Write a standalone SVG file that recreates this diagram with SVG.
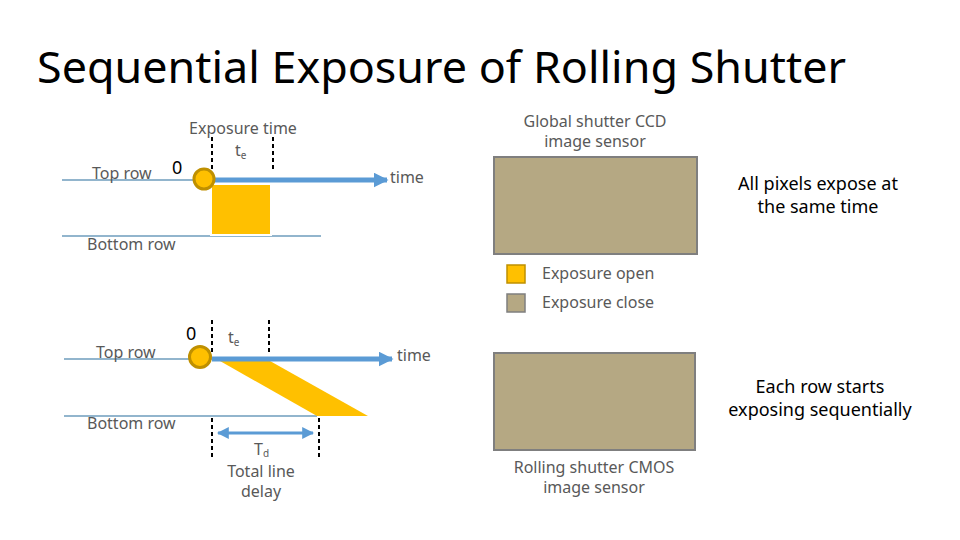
<svg xmlns="http://www.w3.org/2000/svg" width="960" height="540" viewBox="0 0 960 540">
<defs>
<style>
text{font-family:"Noto Sans","Open Sans","Liberation Sans",sans-serif}
.g{fill:#595959;font-size:16px}
.k{fill:#000;font-size:18px}
.c{text-anchor:middle}
.row{stroke:#6e9cbd;stroke-width:1.3;fill:none}
.axis{stroke:#5b9bd5;stroke-width:5;fill:none}
.dash{stroke:#000;stroke-width:2;stroke-dasharray:4,3;fill:none}
.dot{fill:#ffc000;stroke:#bf9000;stroke-width:3}
.open{fill:#ffc000}
.sensor{fill:#b5a883;stroke:#7f7f7f;stroke-width:2}
</style>
<marker id="ah" viewBox="0 0 10 10" refX="9" refY="5" markerWidth="3" markerHeight="3" orient="auto"><path d="M0,0L10,5L0,10z" fill="#5b9bd5"/></marker>
<marker id="ah2" viewBox="0 0 10 10" refX="9" refY="5" markerWidth="4" markerHeight="4" orient="auto-start-reverse"><path d="M0,0L10,5L0,10z" fill="#5b9bd5"/></marker>
</defs>
<rect width="960" height="540" fill="#fff"/>
<text x="37" y="83" font-size="44" fill="#000" textLength="809" lengthAdjust="spacingAndGlyphs">Sequential Exposure of Rolling Shutter</text>

<g id="global-timing">
<line class="row" x1="62" y1="180" x2="212" y2="180"/>
<line class="row" x1="62" y1="236" x2="321" y2="236"/>
<line class="dash" x1="212" y1="137" x2="212" y2="170"/>
<line class="dash" x1="273" y1="137" x2="273" y2="170"/>
<rect x="211" y="184" width="60" height="51" class="open" stroke="#fff" stroke-width="2"/>
<text class="g c" x="243" y="134">Exposure time</text>
<text class="g" x="235" y="156">t<tspan font-size="10" dy="3">e</tspan></text>
<text x="172" y="174" font-size="18" fill="#000">0</text>
<text class="g" x="92" y="179">Top row</text>
<text class="g" x="87" y="250">Bottom row</text>
<text class="g" x="390" y="183" font-size="14">time</text>
</g>

<g id="rolling-timing">
<line class="row" x1="64" y1="359" x2="212" y2="359"/>
<line class="row" x1="64" y1="416" x2="317" y2="416"/>
<polygon class="open" points="220,361 270,361 368,416 317,416"/>
<line class="dash" x1="212" y1="320" x2="212" y2="355"/>
<line class="dash" x1="269" y1="320" x2="269" y2="355"/>
<line class="dash" x1="212" y1="418" x2="212" y2="457"/>
<line class="dash" x1="319" y1="418" x2="319" y2="457"/>
<text x="186" y="340" font-size="18" fill="#000">0</text>
<text class="g" x="228" y="343">t<tspan font-size="10" dy="3">e</tspan></text>
<text class="g" x="96" y="358">Top row</text>
<text class="g" x="87" y="429">Bottom row</text>
<text class="g" x="397" y="361" font-size="14">time</text>
<text class="g" x="254" y="455">T<tspan font-size="10" dy="2">d</tspan></text>
<text class="g c" x="261" y="477">Total line</text>
<text class="g c" x="261" y="497">delay</text>
</g>

<g id="connectors">
<line class="axis" x1="212" y1="180" x2="387" y2="180" marker-end="url(#ah)"/>
<line class="axis" x1="212" y1="359" x2="392" y2="359" marker-end="url(#ah)"/>
<line stroke="#5b9bd5" stroke-width="3" x1="218" y1="433" x2="313" y2="433" marker-start="url(#ah2)" marker-end="url(#ah2)"/>
</g>

<g id="dot1"><circle class="dot" cx="204" cy="179" r="10"/></g>
<g id="dot2"><circle class="dot" cx="200" cy="357" r="10.5"/></g>

<g id="ccd">
<text class="g c" x="595" y="127">Global shutter CCD</text>
<text class="g c" x="595" y="147">image sensor</text>
<rect class="sensor" x="494" y="157" width="203" height="97"/>
<text class="k c" x="818" y="190">All pixels expose at</text>
<text class="k c" x="818" y="213">the same time</text>
</g>

<g id="legend">
<rect x="507" y="265" width="18" height="18" fill="#ffc000" stroke="#bf9000" stroke-width="1.5"/>
<text class="g" x="542" y="279">Exposure open</text>
<rect x="507" y="294" width="18" height="18" fill="#b5a883" stroke="#7f7f7f" stroke-width="1.5"/>
<text class="g" x="542" y="308">Exposure close</text>
</g>

<g id="cmos">
<rect class="sensor" x="494" y="353" width="201" height="97"/>
<text class="k c" x="820" y="393">Each row starts</text>
<text class="k c" x="820" y="416">exposing sequentially</text>
<text class="g c" x="594" y="473">Rolling shutter CMOS</text>
<text class="g c" x="594" y="493">image sensor</text>
</g>
</svg>
